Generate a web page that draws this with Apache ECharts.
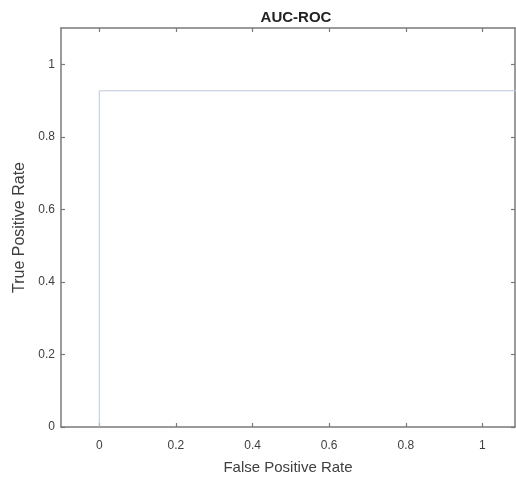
<!DOCTYPE html>
<html><head><meta charset="utf-8">
<script src="https://cdn.jsdelivr.net/npm/echarts@6/dist/echarts.min.js"></script>
<style>html,body{margin:0;padding:0;background:#fff}#c{width:516px;height:480px}</style>
</head><body><div id="c"></div>
<script>
const fpr = [0, 0, 1.1];
const tpr = [0, 0.927, 0.927];
const xTicks = [0, 0.2, 0.4, 0.6, 0.8, 1];
const yTicks = [0, 0.2, 0.4, 0.6, 0.8, 1];
const titleText = 'AUC-ROC';
const xName = 'False Positive Rate';
const yName = 'True Positive Rate';

const axisColor = '#7a7a7a';
const labelColor = '#404040';
const font = 'Liberation Sans, Arial, sans-serif';

const chart = echarts.init(document.getElementById('c'));
function xAx(pos, showLabel) {
  return {
    type: 'value', position: pos, min: -0.1, max: 1.085,
    axisLine: {show: true, onZero: false, lineStyle: {color: axisColor, width: 1.5}},
    axisTick: {show: true, inside: true, length: 4, customValues: xTicks, lineStyle: {color: axisColor, width: 1.2}},
    axisLabel: {show: showLabel, customValues: xTicks, color: labelColor, fontSize: 12, fontFamily: font, margin: 13},
    splitLine: {show: false},
    name: showLabel ? xName : '', nameLocation: 'middle', nameGap: 33,
    nameTextStyle: {color: labelColor, fontSize: 15, fontFamily: font}
  };
}
function yAx(pos, showLabel) {
  return {
    type: 'value', position: pos, min: 0, max: 1.1,
    axisLine: {show: true, onZero: false, lineStyle: {color: axisColor, width: 1.5}},
    axisTick: {show: true, inside: true, length: 4, customValues: yTicks, lineStyle: {color: axisColor, width: 1.2}},
    axisLabel: {show: showLabel, customValues: yTicks, color: labelColor, fontSize: 12, fontFamily: font, margin: 6},
    splitLine: {show: false},
    name: showLabel ? yName : '', nameLocation: 'middle', nameGap: 29,
    nameTextStyle: {color: labelColor, fontSize: 16, fontFamily: font}
  };
}
chart.setOption({
  animation: false,
  backgroundColor: '#fff',
  title: {text: titleText, left: 291, top: 5, textAlign: 'center',
    textStyle: {fontSize: 15, fontWeight: 'bold', color: '#222', fontFamily: font}},
  grid: {left: 61, right: 1, top: 28, bottom: 52},
  xAxis: [xAx('bottom', true), xAx('top', false)],
  yAxis: [yAx('left', true), yAx('right', false)],
  series: [{
    type: 'line', xAxisIndex: 0, yAxisIndex: 0,
    data: fpr.map((v, i) => [v, tpr[i]]),
    showSymbol: false, symbol: 'none', clip: true,
    lineStyle: {color: '#bccadb', width: 1}
  }]
});
</script></body></html>
